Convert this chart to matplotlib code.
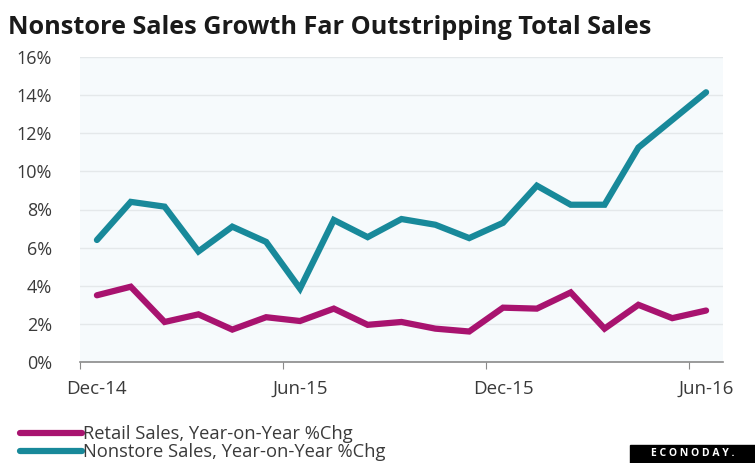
import matplotlib.pyplot as plt
import matplotlib.patches as patches
import numpy as np

# Datos (variacion interanual, %)
meses = ["Dec-14", "Jan-15", "Feb-15", "Mar-15", "Apr-15", "May-15", "Jun-15",
         "Jul-15", "Aug-15", "Sep-15", "Oct-15", "Nov-15", "Dec-15",
         "Jan-16", "Feb-16", "Mar-16", "Apr-16", "May-16", "Jun-16"]
retail = [3.5, 3.95, 2.1, 2.5, 1.7, 2.35, 2.15, 2.8, 1.95, 2.1, 1.75, 1.6, 2.85,
          2.8, 3.65, 1.75, 3.0, 2.3, 2.7]
nonstore = [6.4, 8.4, 8.15, 5.8, 7.1, 6.3, 3.85, 7.45, 6.55, 7.5, 7.2, 6.5, 7.3,
            9.25, 8.25, 8.25, 11.25, 12.7, 14.15]
etiquetas_y = ["0%", "2%", "4%", "6%", "8%", "10%", "12%", "14%", "16%"]

plt.rcParams['font.family'] = ['Open Sans', 'DejaVu Sans']

fig = plt.figure(figsize=(7.55, 4.63), dpi=100)
ax = fig.add_axes([80 / 755, 101 / 463, 643 / 755, 305 / 463])
ax.set_facecolor('#f6fafc')

x = np.arange(len(meses))
l1, = ax.plot(x, retail, color='#a8136f', lw=4.5, solid_capstyle='round',
              solid_joinstyle='miter', label='Retail Sales, Year-on-Year %Chg')
l2, = ax.plot(x, nonstore, color='#18899a', lw=4.5, solid_capstyle='round',
              solid_joinstyle='miter', label='Nonstore Sales, Year-on-Year %Chg')

ax.set_xlim(-0.5, len(meses) - 0.5)
ax.set_ylim(0, 16)
ax.set_yticks(np.arange(0, 17, 2))
ax.set_yticklabels(etiquetas_y)
ax.grid(axis='y', color='#e4e8ea', lw=1)
ax.set_axisbelow(True)

# Marcas entre categorias, etiquetas cada 6 meses
ax.set_xticks(np.arange(-0.5, len(meses), 6))
ax.set_xticklabels([])
ax.set_xticks(x[::6], minor=True)
ax.set_xticklabels([meses[i] for i in x[::6]], minor=True)
ax.tick_params(axis='x', which='major', length=5, color='#8a8a8a', direction='out')
ax.tick_params(axis='x', which='minor', length=0, pad=13, labelsize=13.5,
               labelcolor='#3a3a3a')
ax.tick_params(axis='y', length=0, pad=20, labelsize=13, labelcolor='#3a3a3a')

for s in ['top', 'right', 'left']:
    ax.spines[s].set_visible(False)
ax.spines['bottom'].set_color('#8a8a8a')
ax.spines['bottom'].set_linewidth(1.2)

fig.text(8 / 755, 1 - 28 / 463, 'Nonstore Sales Growth Far Outstripping Total Sales',
         fontsize=18.2, fontweight='bold', color='#1a1a1a', va='center', ha='left')

fig.legend(handles=[l1, l2], loc='lower left', bbox_to_anchor=(0.012, -0.02),
           frameon=False, fontsize=13.2, handlelength=3.4, handletextpad=0.05,
           labelspacing=0.0, borderaxespad=0.2, labelcolor='#3a3a3a')

# Logo
fig.patches.append(patches.Rectangle((630 / 755, 0), 125 / 755, 18 / 463,
                                     transform=fig.transFigure, color='black'))
fig.text(693 / 755, 9 / 463, 'E C O N O D A Y .', color='white', fontsize=7.5,
         fontweight='bold', ha='center', va='center')

fig.savefig('out.png', dpi=100)
